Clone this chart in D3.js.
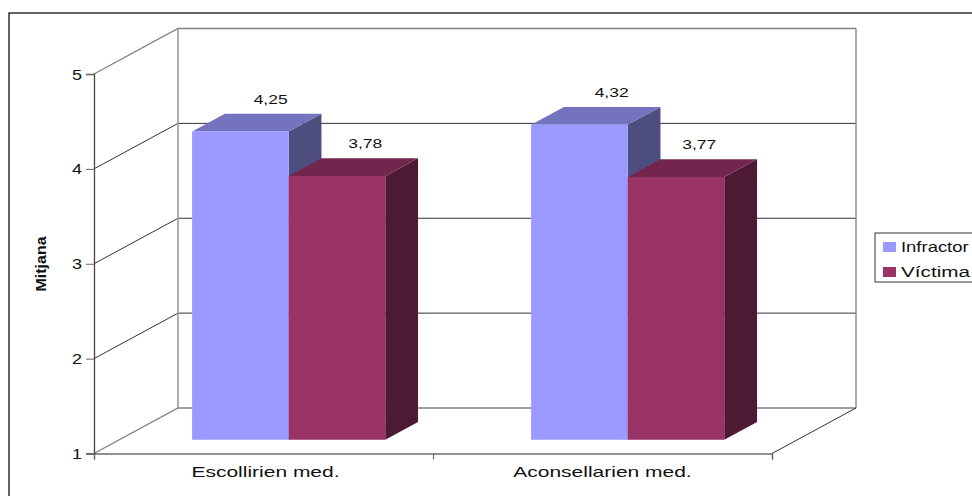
<!DOCTYPE html>
<html><head><meta charset="utf-8">
<script src="https://cdn.jsdelivr.net/npm/d3@7/dist/d3.min.js"></script>
<style>html,body{margin:0;padding:0;background:#fff;overflow:hidden}svg{display:block}text{font-family:"Liberation Sans",Arial,sans-serif;fill:#111}</style>
</head><body><svg id="c" width="972" height="496"></svg>
<script>
const categories = ["Escollirien med.", "Aconsellarien med."];
const seriesNames = ["Infractor", "Víctima"];
const infractor = [4.25, 4.32];
const victima = [3.78, 3.77];
const valueLabels = [["4,25", "4,32"], ["3,78", "3,77"]];
const yTicks = [1, 2, 3, 4, 5];
const frontColors = ["#9999ff", "#993366"];
const topColors = ["#7373bf", "#73264d"];
const sideColors = ["#4d4d80", "#4d1a33"];

const svg = d3.select("#c");
const x = d3.scaleLinear().domain([0, categories.length]).range([94, 772]);
const y = d3.scaleLinear().domain([1, 5]).range([453.5, 74]);
const depth = d3.scaleLinear().domain([0, 1]).range([0, 84]);
const lift = d3.scaleLinear().domain([0, 1]).range([0, -45.5]);
const px = (c, z) => x(c) + depth(z);
const py = (v, z) => y(v) + lift(z);
const line = d3.line();

// horizontally stretched text, as in the reference's resampled image
function label(tx, ty, str, size, sx, anchor) {
  return svg.append("text").attr("transform", `translate(${tx},${ty}) scale(${sx},1)`)
    .attr("text-anchor", anchor || "middle").style("font-size", size + "px").text(str);
}

svg.append("rect").attr("x", 9).attr("y", 13).attr("width", 1000).attr("height", 520)
  .attr("fill", "#fff").attr("stroke", "#111").attr("stroke-width", 1.3);

// walls
yTicks.forEach(v => {
  const edge = v === 1 || v === 5;
  svg.append("path").attr("d", line([[px(0,0), py(v,0)], [px(0,1), py(v,1)], [px(2,1), py(v,1)]]))
    .attr("fill", "none").attr("stroke", edge ? "#808080" : "#333").attr("stroke-width", edge ? 1.3 : 1);
});
svg.append("path").attr("d", line([[px(0,1), py(1,1)], [px(0,1), py(5,1)]])).attr("stroke", "#999").attr("stroke-width", 1.6);
svg.append("path").attr("d", line([[px(2,1), py(1,1)], [px(2,1), py(5,1)]])).attr("stroke", "#888").attr("stroke-width", 1.4);
svg.append("path").attr("d", line([[px(2,1), py(1,1)], [px(2,0), py(1,0)]])).attr("stroke", "#333").attr("stroke-width", 1);

// axes
const gy = svg.append("g").attr("transform", `translate(${x(0)},0)`)
  .call(d3.axisLeft(y).tickValues(yTicks).tickFormat("").tickSize(8));
gy.select(".domain").attr("stroke", "#444").attr("stroke-width", 1.3);
gy.selectAll("line").attr("stroke", "#666");
yTicks.forEach(v => label(77, y(v) + 5.5, String(v), 15, 1.2));
const gx = svg.append("g").attr("transform", `translate(0,${y(1)})`)
  .call(d3.axisBottom(x).tickValues([0, 1, 2]).tickFormat("").tickSize(6));
gx.select(".domain").attr("stroke", "#222").attr("stroke-width", 1.2);
gx.selectAll("line").attr("stroke", "#666").attr("stroke-width", 1.2);

categories.forEach((c, i) => {
  label(px(i + 0.5, 0) + (i ? 0 : 2), 477, c, 14, 1.5);
});

svg.append("text").attr("transform", "translate(46,264) rotate(-90)").attr("text-anchor", "middle")
  .style("font-size", "14px").style("font-weight", "bold").attr("textLength", 55).attr("lengthAdjust", "spacingAndGlyphs").text("Mitjana");

// bars
const z0 = 0.3, z1 = 0.69;
const band = d3.scaleBand().domain(d3.range(seriesNames.length)).range([0, 1]).paddingOuter(0.755).paddingInner(0);
[infractor, victima].forEach((vals, s) => {
  vals.forEach((v, c) => {
    const a = c + band(s), b = a + band.bandwidth();
    svg.append("path").attr("fill", sideColors[s]).attr("d", line([[px(b,z0),py(v,z0)],[px(b,z1),py(v,z1)],[px(b,z1),py(1,z1)],[px(b,z0),py(1,z0)]]) + "Z");
    svg.append("path").attr("fill", topColors[s]).attr("d", line([[px(a,z0),py(v,z0)],[px(a,z1),py(v,z1)],[px(b,z1),py(v,z1)],[px(b,z0),py(v,z0)]]) + "Z");
    svg.append("path").attr("fill", frontColors[s]).attr("d", line([[px(a,z0),py(v,z0)],[px(b,z0),py(v,z0)],[px(b,z0),py(1,z0)],[px(a,z0),py(1,z0)]]) + "Z");
  });
});
const labelShift = [[0, 2], [-2, -7]];
[infractor, victima].forEach((vals, s) => {
  vals.forEach((v, c) => {
    const m = c + band(s) + band.bandwidth() / 2;
    label(px(m, 0.66) + labelShift[s][c], py(v, z1) - 10, valueLabels[s][c], 12.5, 1.4);
  });
});

// legend
svg.append("rect").attr("x", 875).attr("y", 233).attr("width", 120).attr("height", 49)
  .attr("fill", "#fff").attr("stroke", "#333").attr("stroke-width", 1);
const legendStretch = [1.23, 1.38];
seriesNames.forEach((n, i) => {
  const ly = 242 + i * 25;
  svg.append("rect").attr("x", 883).attr("y", ly).attr("width", 13).attr("height", 10).attr("fill", frontColors[i]);
  label(901, ly + 9.5, n, 15, legendStretch[i], "start");
});
</script></body></html>
